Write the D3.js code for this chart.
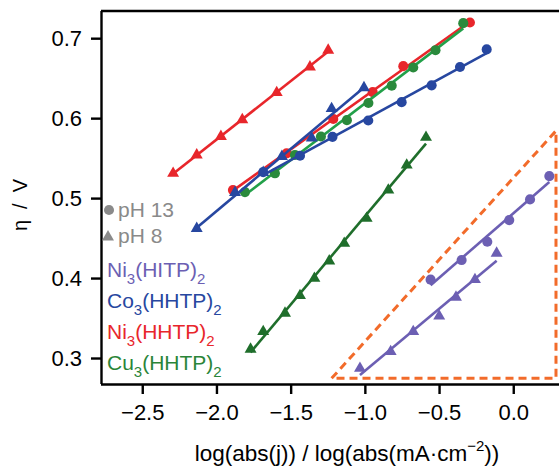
<!DOCTYPE html>
<html><head><meta charset="utf-8">
<script src="https://cdn.jsdelivr.net/npm/d3@7"></script>
<style>
html,body{margin:0;padding:0;background:#fff;}
svg{display:block;font-family:"Liberation Sans",Arial,sans-serif;}
</style></head>
<body>
<svg id="chart" width="559" height="466"></svg>
<script>
// ---- data ----
const xTicks = [-2.5, -2.0, -1.5, -1.0, -0.5, 0.0];
const yTicks = [0.3, 0.4, 0.5, 0.6, 0.7];

const niHITP_pH13_x = [-0.557, -0.348, -0.175, -0.027, 0.113, 0.243];
const niHITP_pH13_y = [0.398, 0.4225, 0.4454, 0.4725, 0.4984, 0.5275];
const niHITP_pH8_x = [-1.033, -0.826, -0.674, -0.499, -0.386, -0.258, -0.112];
const niHITP_pH8_y = [0.287, 0.308, 0.333, 0.3525, 0.376, 0.398, 0.431];

const coHHTP_pH13_x = [-1.685, -1.437, -1.218, -0.977, -0.752, -0.550, -0.359, -0.179];
const coHHTP_pH13_y = [0.5325, 0.553, 0.5766, 0.597, 0.620, 0.641, 0.664, 0.686];
const coHHTP_pH8_x = [-2.133, -1.875, -1.685, -1.559, -1.358, -1.224, -1.006];
const coHHTP_pH8_y = [0.462, 0.507, 0.532, 0.552, 0.575, 0.612, 0.638];

const niHHTP_pH13_x = [-1.889, -1.527, -1.213, -0.947, -0.741, -0.292];
const niHHTP_pH13_y = [0.510, 0.556, 0.599, 0.6325, 0.665, 0.7196];
const niHHTP_pH8_x = [-2.292, -2.133, -1.970, -1.826, -1.594, -1.370, -1.247];
const niHHTP_pH8_y = [0.531, 0.554, 0.577, 0.598, 0.632, 0.664, 0.685];

const cuHHTP_pH13_x = [-1.808, -1.606, -1.471, -1.296, -1.121, -0.976, -0.819, -0.674, -0.524, -0.337];
const cuHHTP_pH13_y = [0.5075, 0.531, 0.554, 0.577, 0.5975, 0.619, 0.6406, 0.6634, 0.685, 0.7188];
const cuHHTP_pH8_x = [-1.770, -1.685, -1.538, -1.437, -1.340, -1.240, -1.139, -0.988, -0.842, -0.718, -0.588];
const cuHHTP_pH8_y = [0.311, 0.333, 0.356, 0.378, 0.3996, 0.4213, 0.4434, 0.4746, 0.510, 0.5413, 0.576];

const guideX = [-1.224, 0.288, 0.288];
const guideY = [0.2746, 0.5841, 0.2746];

const legendNames = [
  {base:"Ni", sub1:"3", mid:"(HITP)", sub2:"2", color:"#6c5fb3"},
  {base:"Co", sub1:"3", mid:"(HHTP)", sub2:"2", color:"#2747a0"},
  {base:"Ni", sub1:"3", mid:"(HHTP)", sub2:"2", color:"#e8262b"},
  {base:"Cu", sub1:"3", mid:"(HHTP)", sub2:"2", color:"#2a8538"}
];

// ---- series definitions ----
const series = [
  {x:niHHTP_pH8_x,  y:niHHTP_pH8_y,  sym:"tri", line:"#e8262b", mark:"#e8262b"},
  {x:niHHTP_pH13_x, y:niHHTP_pH13_y, sym:"cir", line:"#e8262b", mark:"#e8262b"},
  {x:cuHHTP_pH8_x,  y:cuHHTP_pH8_y,  sym:"tri", line:"#1f6e2b", mark:"#1f6e2b"},
  {x:cuHHTP_pH13_x, y:cuHHTP_pH13_y, sym:"cir", line:"#22a049", mark:"#2a8a3c"},
  {x:coHHTP_pH8_x,  y:coHHTP_pH8_y,  sym:"tri", line:"#2747a0", mark:"#2747a0"},
  {x:coHHTP_pH13_x, y:coHHTP_pH13_y, sym:"cir", line:"#2747a0", mark:"#2747a0"},
  {x:niHITP_pH13_x, y:niHITP_pH13_y, sym:"cir", line:"#6c5fb3", mark:"#6c5fb3"},
  {x:niHITP_pH8_x,  y:niHITP_pH8_y,  sym:"tri", line:"#6c5fb3", mark:"#6c5fb3"}
];

const svg = d3.select("#chart");
const mLeft = 101, mTop = 11, mBottom = 384;
const x = d3.scaleLinear().domain([-2.778, 0.35]).range([mLeft, mLeft + 3.128 * 148.4]);
const y = d3.scaleLinear().domain([0.2675, 0.734]).range([mBottom, mTop]);

// frame
svg.append("line").attr("x1", mLeft).attr("x2", 600).attr("y1", mTop).attr("y2", mTop)
  .attr("stroke", "#000").attr("stroke-width", 2.4);

// axes
const xAxis = svg.append("g").attr("transform", `translate(0,${mBottom})`)
  .call(d3.axisBottom(x).tickValues(xTicks).tickFormat(d3.format(".1f")).tickSize(10).tickSizeOuter(0));
const yAxis = svg.append("g").attr("transform", `translate(${mLeft},0)`)
  .call(d3.axisLeft(y).tickValues(yTicks).tickFormat(d3.format(".1f")).tickSize(10).tickSizeOuter(0));
[xAxis, yAxis].forEach(g => {
  g.select(".domain").attr("stroke", "#000").attr("stroke-width", 2.4);
  g.selectAll(".tick line").attr("stroke", "#000").attr("stroke-width", 2.4);
  g.selectAll(".tick text").attr("fill", "#000").style("font-size", "22px")
    .style("font-family", '"Liberation Sans",Arial,sans-serif');
});
xAxis.select(".domain").attr("d", `M${mLeft},0.5H600`);
yAxis.select(".domain").attr("d", `M0.5,${mTop}V${mBottom}`);
xAxis.selectAll(".tick text").attr("dy", "1.05em");
yAxis.selectAll(".tick text").attr("x", -19).attr("dy", "0.35em");

// axis titles
svg.append("text").attr("transform", "translate(27,205) rotate(-90)")
  .attr("text-anchor", "middle").style("font-size", "20px").attr("fill", "#000")
  .attr("textLength", 52).attr("lengthAdjust", "spacing").text("η / V");
const xt = svg.append("text").attr("x", 347).attr("y", 461).attr("text-anchor", "middle")
  .style("font-size", "22.5px").attr("fill", "#000");
xt.append("tspan").text("log(abs(j)) / log(abs(mA·cm");
xt.append("tspan").attr("dy", -10).style("font-size", "15px").text("−2");
xt.append("tspan").attr("dy", 10).text("))");

// orange dashed guide triangle
const guidePts = guideX.map((v, i) => [x(v), y(guideY[i])]);
svg.append("path").attr("d", d3.line()(guidePts) + "Z")
  .attr("fill", "none").attr("stroke", "#f26b2a").attr("stroke-width", 3)
  .attr("stroke-dasharray", "8,5");

// series
const triPath = d3.symbol().type(d3.symbolTriangle).size(62)();
const cirPath = d3.symbol().type(d3.symbolCircle).size(80)();
series.forEach(s => {
  const n = s.x.length;
  const mx = d3.mean(s.x), my = d3.mean(s.y);
  let sxy = 0, sxx = 0;
  for (let i = 0; i < n; i++) { sxy += (s.x[i]-mx)*(s.y[i]-my); sxx += (s.x[i]-mx)**2; }
  const b = sxy / sxx, a = my - b * mx;
  const x0 = d3.min(s.x), x1 = d3.max(s.x);
  svg.append("line").attr("x1", x(x0)).attr("y1", y(a + b*x0))
    .attr("x2", x(x1)).attr("y2", y(a + b*x1))
    .attr("stroke", s.line).attr("stroke-width", 2.6);
  svg.append("g").selectAll("path").data(d3.range(n)).join("path")
    .attr("d", s.sym === "tri" ? triPath : cirPath)
    .attr("transform", i => `translate(${x(s.x[i])},${y(s.y[i])})`)
    .attr("fill", s.mark);
});

// legend: pH markers
svg.append("path").attr("d", cirPath).attr("transform", "translate(109,210)").attr("fill", "#8a8a8a");
svg.append("text").attr("x", 118).attr("y", 217).style("font-size", "21px").attr("fill", "#8a8a8a").text("pH 13");
svg.append("path").attr("d", triPath).attr("transform", "translate(108,237)").attr("fill", "#8a8a8a");
svg.append("text").attr("x", 118).attr("y", 243).style("font-size", "21px").attr("fill", "#8a8a8a").text("pH 8");

// legend: compound names
legendNames.forEach((d, i) => {
  const t = svg.append("text").attr("x", 107).attr("y", 277 + i * 31)
    .style("font-size", "21px").attr("fill", d.color);
  t.append("tspan").text(d.base);
  t.append("tspan").attr("dy", 7).style("font-size", "15px").text(d.sub1);
  t.append("tspan").attr("dy", -7).text(d.mid);
  t.append("tspan").attr("dy", 7).style("font-size", "15px").text(d.sub2);
});
</script>
</body></html>
